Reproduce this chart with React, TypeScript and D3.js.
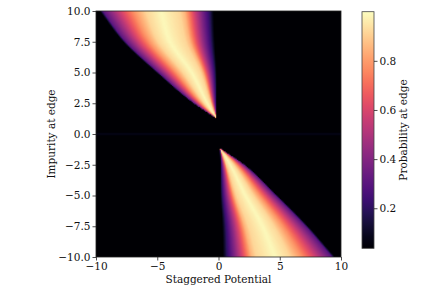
import { useEffect, useRef } from 'react';
import * as d3 from 'd3';

// upper wedge (impurity > 0): outer edge, brightest line and inner edge
const upperImpurity = [1.25, 2.5, 5, 7.5, 10];
const upperOuter = [-0.15, -2.06, -5.05, -7.77, -9.7];
const upperPeak = [-0.15, -0.91, -2.19, -3.96, -4.7];
const upperInner = [-0.15, -0.15, -0.15, -0.3, -0.4];

// lower wedge (impurity < 0)
const lowerImpurity = [-1.15, -2.5, -5, -7.5, -10];
const lowerOuter = [0.12, 2.15, 4.8, 7.3, 9.5];
const lowerPeak = [0.12, 0.95, 2.2, 3.6, 4.6];
const lowerInner = [0.12, 0.15, 0.15, 0.3, 0.35];

// probability across a wedge: outer edge -> peak, then peak -> inner edge
const outerPos = [0, 0.05, 0.2, 0.35, 0.55, 0.75, 1];
const outerVal = [0.04, 0.3, 0.45, 0.6, 0.78, 0.92, 0.99];
const innerPos = [0, 0.35, 0.45, 0.62, 0.75, 0.92, 1];
const innerVal = [0.99, 0.92, 0.85, 0.6, 0.42, 0.2, 0.04];

const background = 0.04;
const zeroRow = 0.07;

const xTicks = [-10, -5, 0, 5, 10];
const yTicks = [-10, -7.5, -5, -2.5, 0, 2.5, 5, 7.5, 10];
const cbTicks = [0.2, 0.4, 0.6, 0.8];
const vmin = 0.037;
const vmax = 1.0;

const W = 432;
const H = 291;
const margin = { left: 96, right: 91, top: 11, bottom: 34 };
const N = 200;
const font = "'DejaVu Serif', serif";
const fs = 10.5;

// smooth curve through the read points (cubic hermite, averaged slopes)
function smooth(xs: number[], ys: number[]) {
  const order = d3.range(xs.length).sort((a, b) => xs[a] - xs[b]);
  const X = order.map((i) => xs[i]);
  const Y = order.map((i) => ys[i]);
  const n = X.length;
  const d = d3.range(n - 1).map((i) => (Y[i + 1] - Y[i]) / (X[i + 1] - X[i]));
  const m = d3.range(n).map((i) => (i === 0 ? d[0] : i === n - 1 ? d[n - 2] : (d[i - 1] + d[i]) / 2));
  return (x: number) => {
    const xc = Math.max(X[0], Math.min(X[n - 1], x));
    let i = 0;
    while (i < n - 2 && xc > X[i + 1]) i++;
    const h = X[i + 1] - X[i];
    const t = (xc - X[i]) / h;
    const t2 = t * t, t3 = t2 * t;
    return (2 * t3 - 3 * t2 + 1) * Y[i] + (t3 - 2 * t2 + t) * h * m[i] + (-2 * t3 + 3 * t2) * Y[i + 1] + (t3 - t2) * h * m[i + 1];
  };
}

function App() {
  const svgRef = useRef<SVGSVGElement | null>(null);

  useEffect(() => {
    if (!svgRef.current) return;
    const svg = d3.select(svgRef.current);
    svg.selectAll('*').remove();

    const x = d3.scaleLinear().domain([-10, 10]).range([margin.left, W - margin.right]);
    const y = d3.scaleLinear().domain([-10, 10]).range([H - margin.bottom, margin.top]);

    const outerProfile = d3.scaleLinear().domain(outerPos).range(outerVal).clamp(true);
    const innerProfile = d3.scaleLinear().domain(innerPos).range(innerVal).clamp(true);

    const upO = smooth(upperImpurity, upperOuter);
    const upP = smooth(upperImpurity, upperPeak);
    const upI = smooth(upperImpurity, upperInner);
    const loO = smooth(lowerImpurity, lowerOuter);
    const loP = smooth(lowerImpurity, lowerPeak);
    const loI = smooth(lowerImpurity, lowerInner);

    const value = (v: number, u: number) => {
      if (Math.abs(u) < 0.1) return zeroRow;
      if (u >= upperImpurity[0]) {
        const o = upO(u), p = upP(u), i = upI(u);
        if (v < o || v > i) return background;
        if (v <= p) return p - o < 1e-6 ? 0.95 : outerProfile((v - o) / (p - o));
        return i - p < 1e-6 ? 0.95 : innerProfile((v - p) / (i - p));
      }
      if (u <= lowerImpurity[0]) {
        const o = loO(u), p = loP(u), i = loI(u);
        if (v > o || v < i) return background;
        if (v >= p) return o - p < 1e-6 ? 0.95 : outerProfile((o - v) / (o - p));
        return p - i < 1e-6 ? 0.95 : innerProfile((p - v) / (p - i));
      }
      return background;
    };

    const color = (val: number) =>
      d3.interpolateMagma(Math.max(0, Math.min(1, (val - vmin) / (vmax - vmin))));

    const canvas = document.createElement('canvas');
    canvas.width = N;
    canvas.height = N;
    const ctx = canvas.getContext('2d')!;
    const img = ctx.createImageData(N, N);
    for (let r = 0; r < N; r++) {
      const u = 10 - ((r + 0.5) * 20) / N;
      for (let c = 0; c < N; c++) {
        const v = -10 + ((c + 0.5) * 20) / N;
        const col = d3.rgb(color(value(v, u)));
        const k = (r * N + c) * 4;
        img.data[k] = col.r;
        img.data[k + 1] = col.g;
        img.data[k + 2] = col.b;
        img.data[k + 3] = 255;
      }
    }
    ctx.putImageData(img, 0, 0);

    svg
      .append('image')
      .attr('href', canvas.toDataURL())
      .attr('x', x(-10))
      .attr('y', y(10))
      .attr('width', x(10) - x(-10))
      .attr('height', y(-10) - y(10))
      .attr('preserveAspectRatio', 'none');

    svg
      .append('rect')
      .attr('x', x(-10))
      .attr('y', y(10))
      .attr('width', x(10) - x(-10))
      .attr('height', y(-10) - y(10))
      .attr('fill', 'none')
      .attr('stroke', '#222')
      .attr('stroke-width', 0.8);

    const gx = svg
      .append('g')
      .attr('transform', `translate(0,${H - margin.bottom})`)
      .call(d3.axisBottom(x).tickValues(xTicks).tickFormat(d3.format('d')).tickSize(3.5).tickPadding(2));
    const gy = svg
      .append('g')
      .attr('transform', `translate(${margin.left},0)`)
      .call(d3.axisLeft(y).tickValues(yTicks).tickFormat(d3.format('.1f')).tickSize(3.5).tickPadding(2));
    [gx, gy].forEach((g) => {
      g.select('.domain').remove();
      g.selectAll('line').attr('stroke', '#222').attr('stroke-width', 0.8);
      g.selectAll('text').attr('font-family', font).attr('font-size', fs).attr('fill', '#111');
    });

    svg
      .append('text')
      .attr('x', (x(-10) + x(10)) / 2)
      .attr('y', 283)
      .attr('text-anchor', 'middle')
      .attr('font-family', font)
      .attr('font-size', fs)
      .attr('fill', '#111')
      .text('Staggered Potential');

    svg
      .append('text')
      .attr('transform', `translate(55,${(y(10) + y(-10)) / 2}) rotate(-90)`)
      .attr('text-anchor', 'middle')
      .attr('font-family', font)
      .attr('font-size', fs)
      .attr('fill', '#111')
      .text('Impurity at edge');

    // colorbar
    const cbX = 362;
    const cbW = 12;
    const cbScale = d3.scaleLinear().domain([vmin, vmax]).range([248.3, 11.7]);
    const grad = svg
      .append('defs')
      .append('linearGradient')
      .attr('id', 'cb')
      .attr('x1', 0)
      .attr('y1', 1)
      .attr('x2', 0)
      .attr('y2', 0);
    d3.range(0, 1.0001, 0.05).forEach((t) => {
      grad.append('stop').attr('offset', t).attr('stop-color', d3.interpolateMagma(t));
    });
    svg
      .append('rect')
      .attr('x', cbX)
      .attr('y', cbScale(vmax))
      .attr('width', cbW)
      .attr('height', cbScale(vmin) - cbScale(vmax))
      .attr('fill', 'url(#cb)')
      .attr('stroke', '#444')
      .attr('stroke-width', 0.8);
    const gc = svg
      .append('g')
      .attr('transform', `translate(${cbX + cbW},0)`)
      .call(d3.axisRight(cbScale).tickValues(cbTicks).tickFormat(d3.format('.1f')).tickSize(3.5).tickPadding(2));
    gc.select('.domain').remove();
    gc.selectAll('line').attr('stroke', '#222').attr('stroke-width', 0.8);
    gc.selectAll('text').attr('font-family', font).attr('font-size', fs).attr('fill', '#111');

    svg
      .append('text')
      .attr('transform', `translate(407,${(cbScale(vmin) + cbScale(vmax)) / 2}) rotate(-90)`)
      .attr('text-anchor', 'middle')
      .attr('font-family', font)
      .attr('font-size', fs)
      .attr('fill', '#111')
      .text('Probability at edge');
  }, []);

  return (
    <div style={{ position: 'absolute', left: 0, top: 0 }}>
      <svg ref={svgRef} width={W} height={H} style={{ display: 'block', background: '#fff' }}></svg>
    </div>
  );
}

export default App;
